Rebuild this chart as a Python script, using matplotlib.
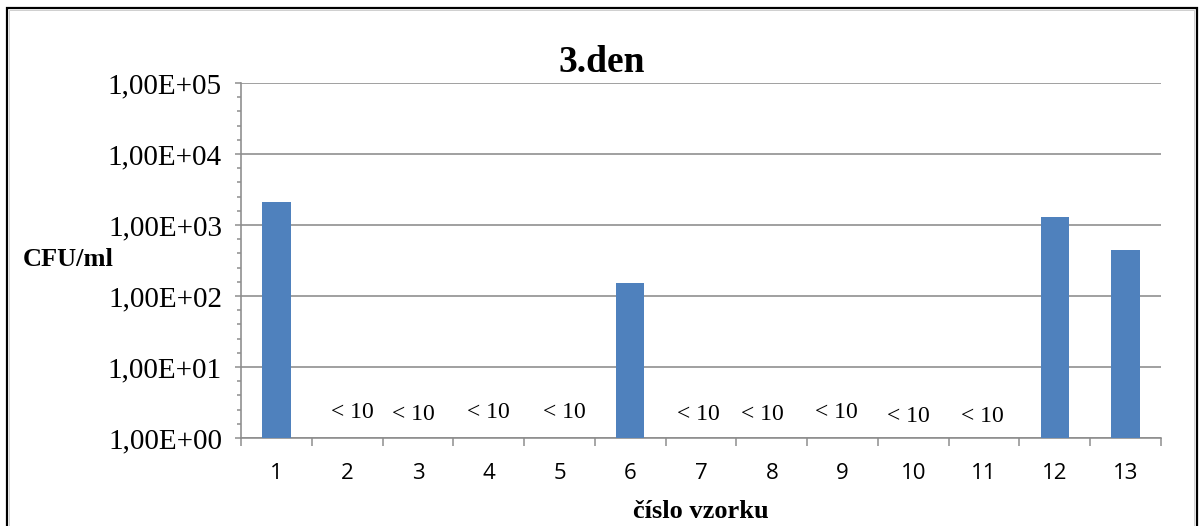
import numpy as np
import matplotlib
matplotlib.use("Agg")
import matplotlib.pyplot as plt
from matplotlib.patches import Rectangle
from matplotlib.ticker import FixedLocator, FuncFormatter, NullFormatter

# --- data -------------------------------------------------------------
samples = ["1", "2", "3", "4", "5", "6", "7", "8", "9", "10", "11", "12", "13"]
cfu_per_ml = [2100, None, None, None, None, 150, None, None, None, None, None, 1300, 450]
below_limit_text = "< 10"
title_text = "3.den"
y_label = "CFU/ml"
x_label = "číslo vzorku"

# small manual nudges (px) of the "< 10" labels: (dx, label centre y in px from top)
label_nudges = [(5, 413), (-5, 415), (0, 413), (5, 413), (-3, 415),
                (-9, 415), (-6, 413), (-5, 417), (-2, 417)]

# --- style ------------------------------------------------------------
W, H, DPI = 1201, 526, 100
BAR = "#4F81BD"
GRID = "#8C8C8C"
SERIF = "Liberation Serif"
SANS = "Open Sans"
px = 72.0 / DPI  # points per pixel

fig = plt.figure(figsize=(W / DPI, H / DPI), dpi=DPI)
fig.patch.set_facecolor("white")

ax_left, ax_right, ax_top, ax_bottom = 241, 1161, 83, 438
ax = fig.add_axes([ax_left / W, 1 - ax_bottom / H,
                   (ax_right - ax_left) / W, (ax_bottom - ax_top) / H])

x = np.arange(len(samples))
heights = [v if v is not None else np.nan for v in cfu_per_ml]
ax.bar(x, heights, width=0.4, color=BAR, zorder=3)

ax.set_yscale("log")
ax.set_ylim(1, 1e5)
ax.set_xlim(-0.5, len(samples) - 0.5)

# y axis: decades with Excel-style labels, five evenly spaced minor ticks per decade
majors = [10.0 ** k for k in range(0, 6)]
minors = [10.0 ** (k + i / 5) for k in range(0, 5) for i in range(1, 5)]
ax.yaxis.set_major_locator(FixedLocator(majors))
ax.yaxis.set_minor_locator(FixedLocator(minors))
ax.yaxis.set_major_formatter(FuncFormatter(
    lambda v, pos: "1,00E+%02d" % int(round(np.log10(v)))))
ax.yaxis.set_minor_formatter(NullFormatter())
ax.tick_params(axis="y", which="major", direction="out", length=6 * px,
               width=1.5 * px, color=GRID, pad=13 * px, labelsize=21)
ax.tick_params(axis="y", which="minor", direction="out", length=4 * px,
               width=1.5 * px, color=GRID)
for lab in ax.get_yticklabels():
    lab.set_fontfamily(SERIF)

# x axis: ticks on category boundaries, labels centred on categories
ax.xaxis.set_major_locator(FixedLocator(np.arange(-0.5, len(samples), 1.0)))
ax.xaxis.set_major_formatter(NullFormatter())
ax.xaxis.set_minor_locator(FixedLocator(x))
ax.set_xticklabels(samples, minor=True)
ax.tick_params(axis="x", which="major", direction="out", length=8 * px,
               width=1.5 * px, color=GRID)
ax.tick_params(axis="x", which="minor", length=0, pad=25 * px, labelsize=16)
for lab in ax.get_xticklabels(minor=True):
    lab.set_fontfamily(SANS)

ax.grid(axis="y", which="major", color=GRID, linewidth=1.6 * px, zorder=1)
for side in ("top", "right"):
    ax.spines[side].set_visible(False)
for side in ("left", "bottom"):
    ax.spines[side].set_color(GRID)
    ax.spines[side].set_linewidth(1.6 * px)

# "< 10" labels for samples below the detection limit
k = 0
for xi, v in zip(x, cfu_per_ml):
    if v is None:
        dx, yc = label_nudges[k]
        k += 1
        ax.annotate(below_limit_text, xy=(xi, 1), xycoords="data",
                    xytext=(dx * px, (ax_bottom - yc) * px), textcoords="offset points",
                    ha="center", va="center", fontsize=17, fontfamily=SERIF)

# titles
fig.text(602 / W, 1 - 62 / H, title_text, ha="center", va="center",
         fontsize=27, fontweight="bold", fontfamily=SERIF)
fig.text(23 / W, 1 - 260 / H, y_label, ha="left", va="center",
         fontsize=19, fontweight="bold", fontfamily=SERIF)
fig.text(701 / W, 1 - 512 / H, x_label, ha="center", va="center",
         fontsize=19, fontweight="bold", fontfamily=SERIF)

# chart frame
fig.add_artist(Rectangle((9 / W, -0.05), (1194 - 9) / W, 1 - 10 / H + 0.05,
                         transform=fig.transFigure, fill=False,
                         edgecolor="#D0D0D0", linewidth=1 * px))
fig.add_artist(Rectangle((7 / W, -0.05), (1197 - 7) / W, 1 - 8 / H + 0.05,
                         transform=fig.transFigure, fill=False,
                         edgecolor="black", linewidth=2.2 * px))

fig.savefig("out.png", dpi=DPI)
